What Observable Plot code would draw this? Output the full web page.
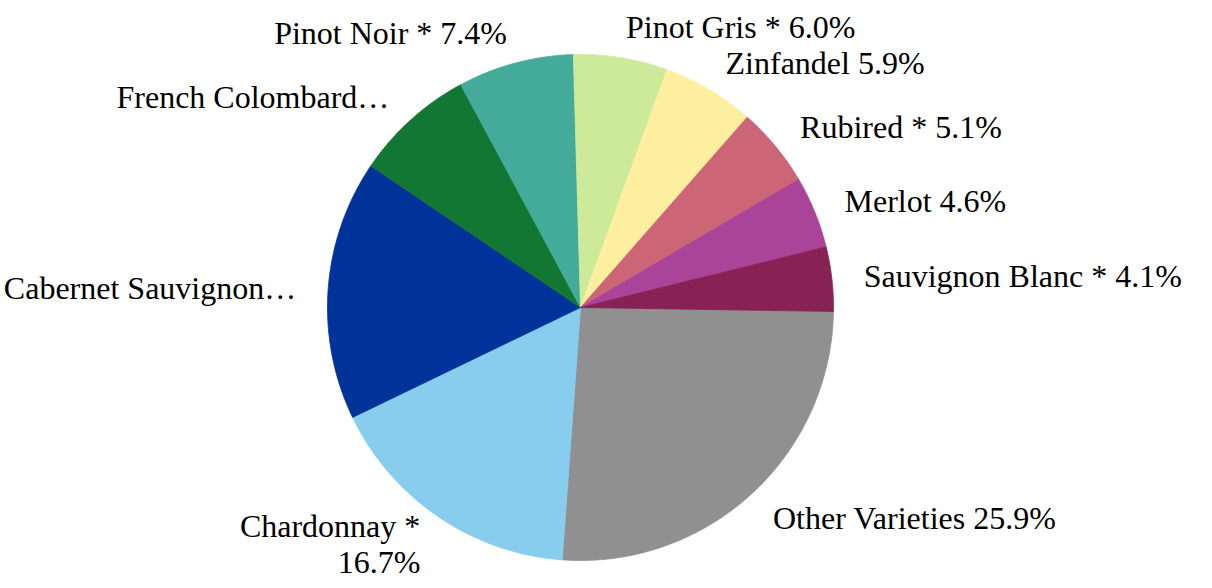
<!DOCTYPE html>
<html>
<head>
<meta charset="utf-8">
<script src="https://cdn.jsdelivr.net/npm/d3@7"></script>
<script src="https://cdn.jsdelivr.net/npm/@observablehq/plot@0.6"></script>
<style>
  html, body { margin: 0; padding: 0; background: #fff; }
  #chart svg { display: block; }
  #chart svg text { font-family: "Liberation Serif", "Times New Roman", serif !important; }
</style>
</head>
<body>
<div id="chart"></div>
<script>
// ---- data ----
const categories = ["Other Varieties", "Chardonnay", "Cabernet Sauvignon", "French Colombard", "Pinot Noir", "Pinot Gris", "Zinfandel", "Rubired", "Merlot", "Sauvignon Blanc"];
const shares = [25.9, 16.7, 16.6, 7.7, 7.4, 6.0, 5.9, 5.1, 4.6, 4.1];
const labels = ["Other Varieties 25.9%", "Chardonnay *\n16.7%", "Cabernet Sauvignon…", "French Colombard…", "Pinot Noir * 7.4%", "Pinot Gris * 6.0%", "Zinfandel 5.9%", "Rubired * 5.1%", "Merlot 4.6%", "Sauvignon Blanc * 4.1%"];
const colors = ["#909090", "#88CCEE", "#003399", "#117733", "#44AA99", "#CCEA9A", "#FEEEA0", "#CC6677", "#AA4499", "#882255"];

// ---- layout ----
const W = 1212, H = 588;
const cx = 580, cy = 307, r = 253;     // pixel centre & radius
const labelGap = 32;                    // px beyond rim
const startAngle = Math.PI / 2 + 0.9 * Math.PI / 180;

const rows = categories.map((name, i) => ({name, share: shares[i], label: labels[i]}));
const arcs = d3.pie().sort(null).value(d => d.share)
  .startAngle(startAngle).endAngle(startAngle + 2 * Math.PI)(rows);

// polygon points for each slice (unit radius, y up)
const pts = [];
for (const a of arcs) {
  const n = Math.max(2, Math.ceil((a.endAngle - a.startAngle) / (Math.PI / 360)));
  pts.push({name: a.data.name, x: 0, y: 0});
  for (let k = 0; k <= n; k++) {
    const t = a.startAngle + (a.endAngle - a.startAngle) * k / n;
    pts.push({name: a.data.name, x: Math.sin(t), y: Math.cos(t)});
  }
  pts.push({name: a.data.name, x: 0, y: 0});
}

const R = (r + labelGap) / r;
const labelPts = arcs.map(a => {
  const m = (a.startAngle + a.endAngle) / 2;
  return {label: a.data.label, x: R * Math.sin(m), y: R * Math.cos(m)};
});

const textStyle = {fontSize: 32, fontFamily: "Liberation Serif", fill: "#000", lineAnchor: "middle", lineHeight: 1.15};

const chart = Plot.plot({
  width: W, height: H,
  margin: 0,
  style: {fontFamily: "Liberation Serif"},
  x: {axis: null, domain: [-cx / r, (W - cx) / r]},
  y: {axis: null, domain: [-(H - cy) / r, cy / r]},
  color: {domain: categories, range: colors},
  marks: [
    Plot.line(pts, {x: "x", y: "y", z: "name", fill: "name", stroke: "name", strokeWidth: 0.8, curve: "linear"}),
    Plot.text(labelPts.filter(d => d.x >= 0), {x: "x", y: "y", text: "label", textAnchor: "start", ...textStyle}),
    Plot.text(labelPts.filter(d => d.x < 0), {x: "x", y: "y", text: "label", textAnchor: "end", ...textStyle})
  ]
});
document.getElementById("chart").appendChild(chart);
</script>
</body>
</html>
